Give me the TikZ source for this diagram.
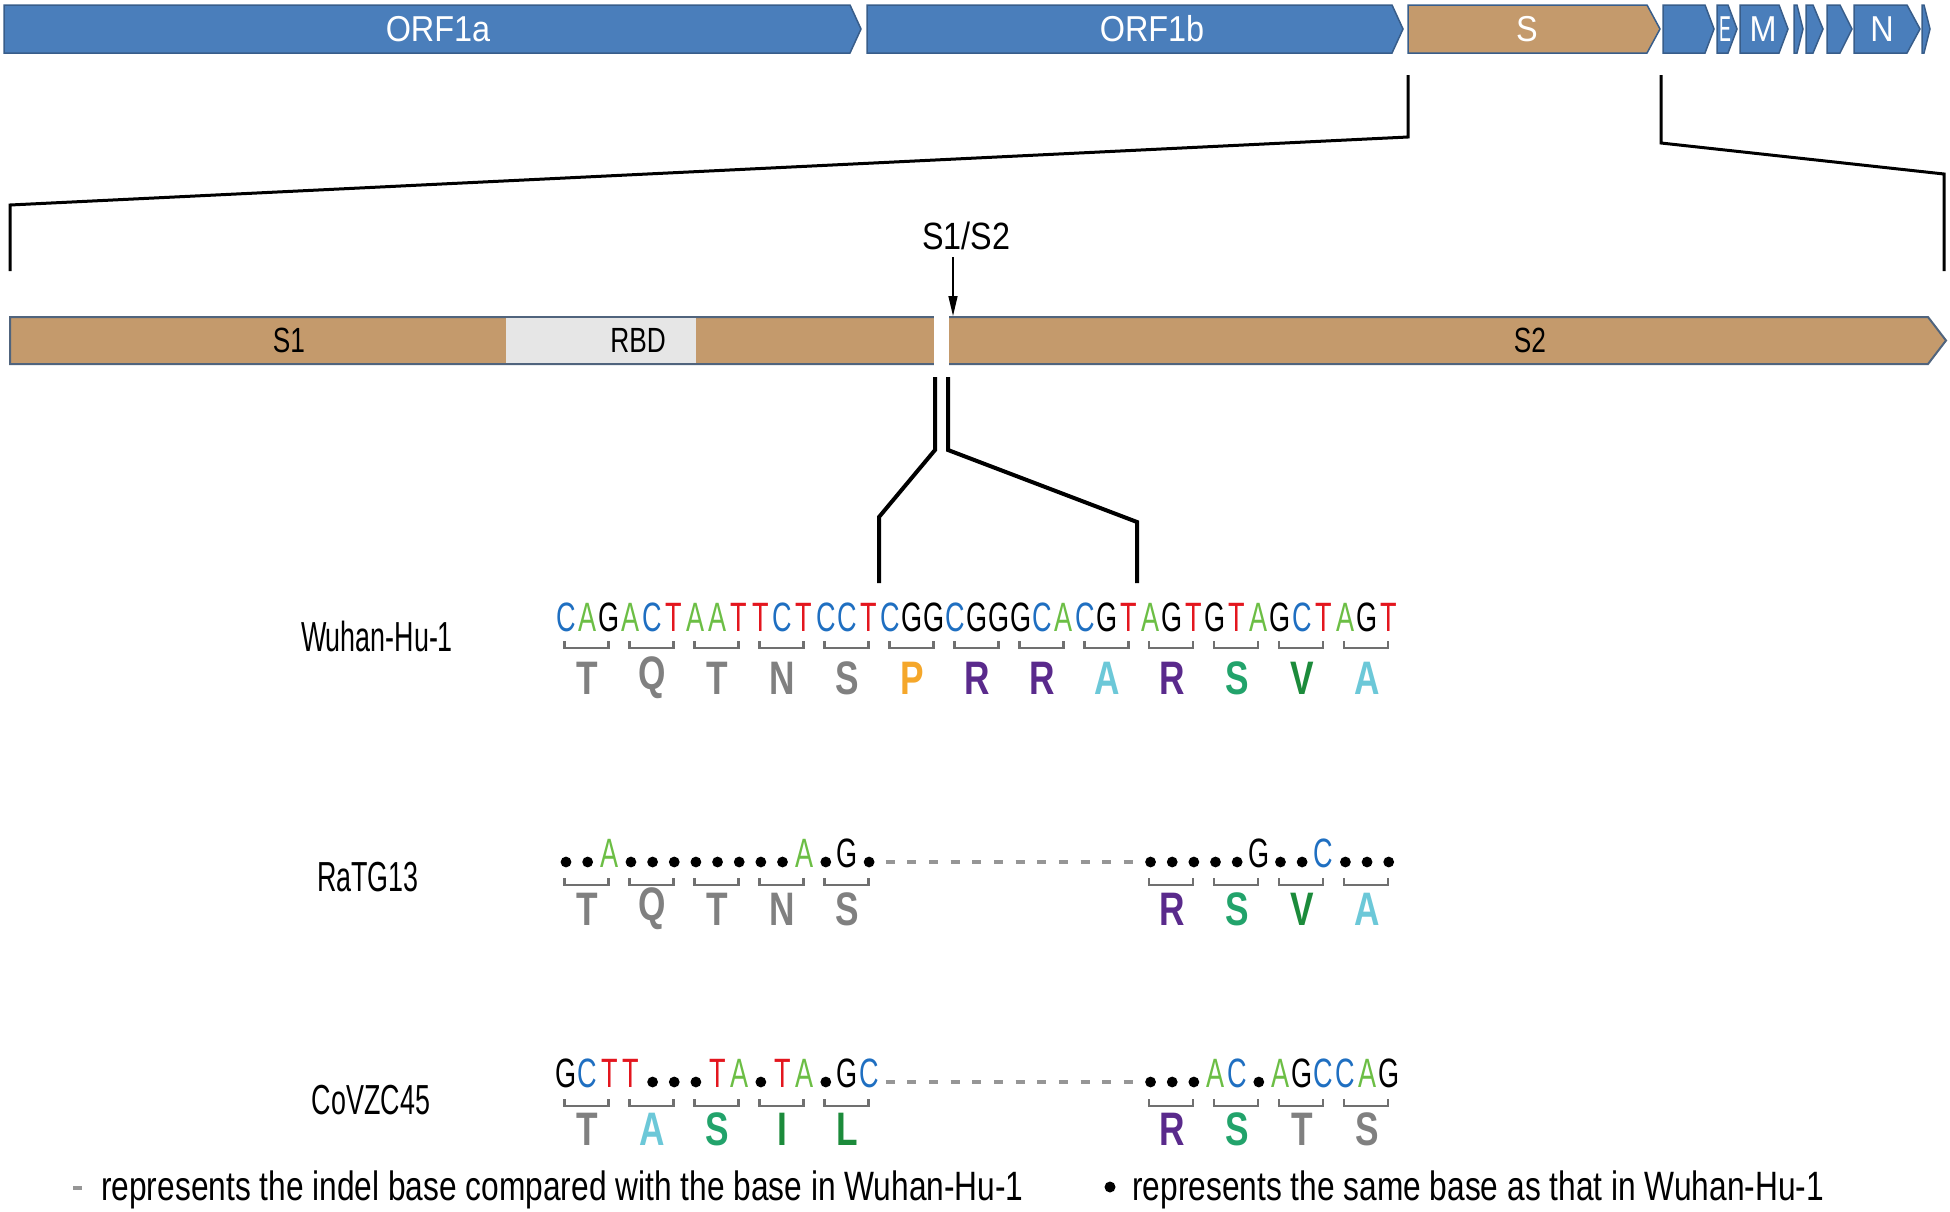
\documentclass[tikz,border=0pt]{standalone}
\usepackage{fontspec}
\setmainfont{Liberation Sans}
\newfontfamily\fgene[FakeStretch=0.9]{Liberation Sans}
\newfontfamily\fbar[FakeStretch=0.75]{Liberation Sans}
\newfontfamily\fcut[FakeStretch=0.85]{Liberation Sans}
\newfontfamily\frow[FakeStretch=0.64]{Liberation Sans}
\newfontfamily\fleg[FakeStretch=0.773]{Liberation Sans}
\newfontfamily\seqfont[FakeStretch=0.66]{Liberation Sans}
\newfontfamily\aafont[FakeStretch=0.75]{Liberation Sans}
\usetikzlibrary{arrows.meta}
\definecolor{geneblue}{RGB}{74,126,187}
\definecolor{geneedge}{RGB}{56,93,138}
\definecolor{stan}{RGB}{196,154,108}
\definecolor{baredge}{RGB}{80,100,125}
\definecolor{rbdgrey}{RGB}{230,230,230}
\definecolor{nA}{RGB}{108,190,69}
\definecolor{nC}{RGB}{31,111,193}
\definecolor{nG}{RGB}{0,0,0}
\definecolor{nT}{RGB}{227,22,30}
\definecolor{aagrey}{RGB}{128,128,128}
\definecolor{aaP}{RGB}{245,167,42}
\definecolor{aaR}{RGB}{90,42,140}
\definecolor{aaA}{RGB}{108,200,216}
\definecolor{aaS}{RGB}{34,163,107}
\definecolor{aaV}{RGB}{28,139,59}
\definecolor{brkgrey}{RGB}{112,112,112}
\definecolor{dashgrey}{RGB}{150,150,150}
\newcommand\genearrow[5]{\filldraw[fill=#4,draw=#5,line width=1.5] (#1,5) -- (#2,5) -- (#3,29) -- (#2,53) -- (#1,53) -- cycle;}
\begin{document}
\begin{tikzpicture}[x=1pt,y=-1pt,
  genelbl/.style={text=white,inner sep=0,font=\fgene\fontsize{36}{36}\selectfont},
  barlbl/.style={text=black,inner sep=0,font=\fbar\fontsize{35}{35}\selectfont},
  nt/.style={inner sep=0,anchor=base,font=\seqfont\fontsize{41}{41}\selectfont},
  aa/.style={inner sep=0,font=\aafont\bfseries\fontsize{47}{47}\selectfont},
  rowlbl/.style={inner sep=0,font=\frow\fontsize{42}{42}\selectfont},
  leglbl/.style={inner sep=0,anchor=base west,font=\fleg\fontsize{41}{41}\selectfont},
  brk/.style={draw=brkgrey,line width=2.5},
  dsh/.style={draw=dashgrey,line width=3.5},
  zoomline/.style={draw=black,line width=3},
  dotr/.style={fill=black},
]
\useasboundingbox (0,0) rectangle (1950,1211);
% ---------- genome ----------
\genearrow{4}{850}{861}{geneblue}{geneedge}
\genearrow{867}{1392}{1403}{geneblue}{geneedge}
\genearrow{1408}{1647}{1660}{stan}{geneedge}
\genearrow{1663}{1705}{1714}{geneblue}{geneedge}
\genearrow{1717}{1728}{1737}{geneblue}{geneedge}
\genearrow{1740}{1779}{1788}{geneblue}{geneedge}
\genearrow{1794}{1797}{1803}{geneblue}{geneedge}
\genearrow{1806}{1813}{1823}{geneblue}{geneedge}
\genearrow{1827}{1840}{1852}{geneblue}{geneedge}
\genearrow{1854}{1907}{1920}{geneblue}{geneedge}
\genearrow{1922}{1924}{1930}{geneblue}{geneedge}
\node[genelbl] (orf1a) at (438,29) {ORF1a};
\node[genelbl] (orf1b) at (1152,29) {ORF1b};
\node[genelbl] (sg) at (1527,29) {S};
\node[genelbl] (eg) at (1725,29) {\scalebox{0.55}[1]{E}};
\node[genelbl] (mg) at (1763,29) {M};
\node[genelbl] (ng) at (1882,29) {N};
% ---------- zoom lines from S ----------
\coordinate (sL) at (1408,75);
\coordinate (sR) at (1661,75);
\coordinate (bL) at (10,271);
\coordinate (bR) at (1944,271);
\draw[zoomline] (sL) -- (1408,137) -- (10,205) -- (bL);
\draw[zoomline] (sR) -- (1661,143) -- (1944,174) -- (bR);
% ---------- spike bar ----------
\filldraw[fill=stan,draw=baredge,line width=2] (10,317) -- (1928,317) -- (1946,340.5) -- (1928,364) -- (10,364) -- cycle;
\fill[rbdgrey] (506,318) rectangle (696,363);
\fill[white] (934,315) rectangle (949,366);
\node[barlbl] (s1) at (289,340.5) {S1};
\node[barlbl] (rbd) at (638,340.5) {RBD};
\node[barlbl] (s2) at (1530,340.5) {S2};
\node[inner sep=0,font=\fcut\fontsize{38}{38}\selectfont] (s12) at (966,236) {S1/S2};
\coordinate (cut) at (953,316);
\draw[line width=1.5,-{Triangle[length=20,width=9]}] (953,257) -- (cut);
% ---------- double line to sequence ----------
\coordinate (dl) at (879,583);
\coordinate (dr) at (1137,583);
\draw[line width=4] (935,377) -- (935,450) -- (879,517) -- (dl);
\draw[line width=4] (948,377) -- (948,450) -- (1137,522) -- (dr);
% ---------- row labels ----------
\node[rowlbl] (lw) at (377,636) {Wuhan-Hu-1};
\node[rowlbl] (lr) at (368,877) {RaTG13};
\node[rowlbl] (lc) at (371,1100) {CoVZC45};
% ---------- Wuhan-Hu-1 ----------
\foreach \c [count=\j from 0] in {C,A,G,A,C,T,A,A,T,T,C,T,C,C,T,C,G,G,C,G,G,G,C,A,C,G,T,A,G,T,G,T,A,G,C,T,A,G,T}
  \node[nt,text=n\c] (w\j) at ({566+21.65*\j},631) {\c};
\foreach \i in {0,...,12}
  \draw[brk] ({587.65+64.95*\i-23},641) -- ++(0,7) -- ++(44,0) -- ++(0,-7);
\foreach \a/\col [count=\i from 0] in {T/aagrey,Q/aagrey,T/aagrey,N/aagrey,S/aagrey,P/aaP,R/aaR,R/aaR,A/aaA,R/aaR,S/aaS,V/aaV,A/aaA}
  \node[aa,text=\col] (wa\i) at ({587.65+64.95*\i},678) {\a};
% ---------- RaTG13 ----------
\foreach \j in {0,1,3,4,5,6,7,8,9,10,12,14,27,28,29,30,31,33,34,36,37,38}
  \fill[dotr] ({566+21.65*\j},862) circle (5.4);
\foreach \j/\c in {2/A,11/A,13/G,32/G,35/C}
  \node[nt,text=n\c] (r\j) at ({566+21.65*\j},867) {\c};
\foreach \j in {15,...,26}
  \draw[dsh] ({566+21.65*\j-5},862) -- ++(9,0);
\foreach \i in {0,1,2,3,4,9,10,11,12}
  \draw[brk] ({587.65+64.95*\i-23},878) -- ++(0,7) -- ++(44,0) -- ++(0,-7);
\foreach \i/\a/\col in {0/T/aagrey,1/Q/aagrey,2/T/aagrey,3/N/aagrey,4/S/aagrey,9/R/aaR,10/S/aaS,11/V/aaV,12/A/aaA}
  \node[aa,text=\col] (ra\i) at ({587.65+64.95*\i},909) {\a};
% ---------- CoVZC45 ----------
\foreach \j in {4,5,6,9,12,27,28,29,32}
  \fill[dotr] ({566+21.65*\j},1082) circle (5.4);
\foreach \j/\c in {0/G,1/C,2/T,3/T,7/T,8/A,10/T,11/A,13/G,14/C,30/A,31/C,33/A,34/G,35/C,36/C,37/A,38/G}
  \node[nt,text=n\c] (c\j) at ({566+21.65*\j},1087) {\c};
\foreach \j in {15,...,26}
  \draw[dsh] ({566+21.65*\j-5},1082) -- ++(9,0);
\foreach \i in {0,1,2,3,4,9,10,11,12}
  \draw[brk] ({587.65+64.95*\i-23},1099) -- ++(0,7) -- ++(44,0) -- ++(0,-7);
\foreach \i/\a/\col in {0/T/aagrey,1/A/aaA,2/S/aaS,3/I/aaV,4/L/aaV,9/R/aaR,10/S/aaS,11/T/aagrey,12/S/aagrey}
  \node[aa,text=\col] (ca\i) at ({587.65+64.95*\i},1129) {\a};
% ---------- legend ----------
\draw[dsh] (73,1188) -- (82,1188);
\node[leglbl] (leg1) at (101,1200) {represents the indel base compared with the base in Wuhan-Hu-1};
\fill[dotr] (1110,1187) circle (5.5);
\node[leglbl] (leg2) at (1132,1200) {represents the same base as that in Wuhan-Hu-1};
\end{tikzpicture}
\end{document}
